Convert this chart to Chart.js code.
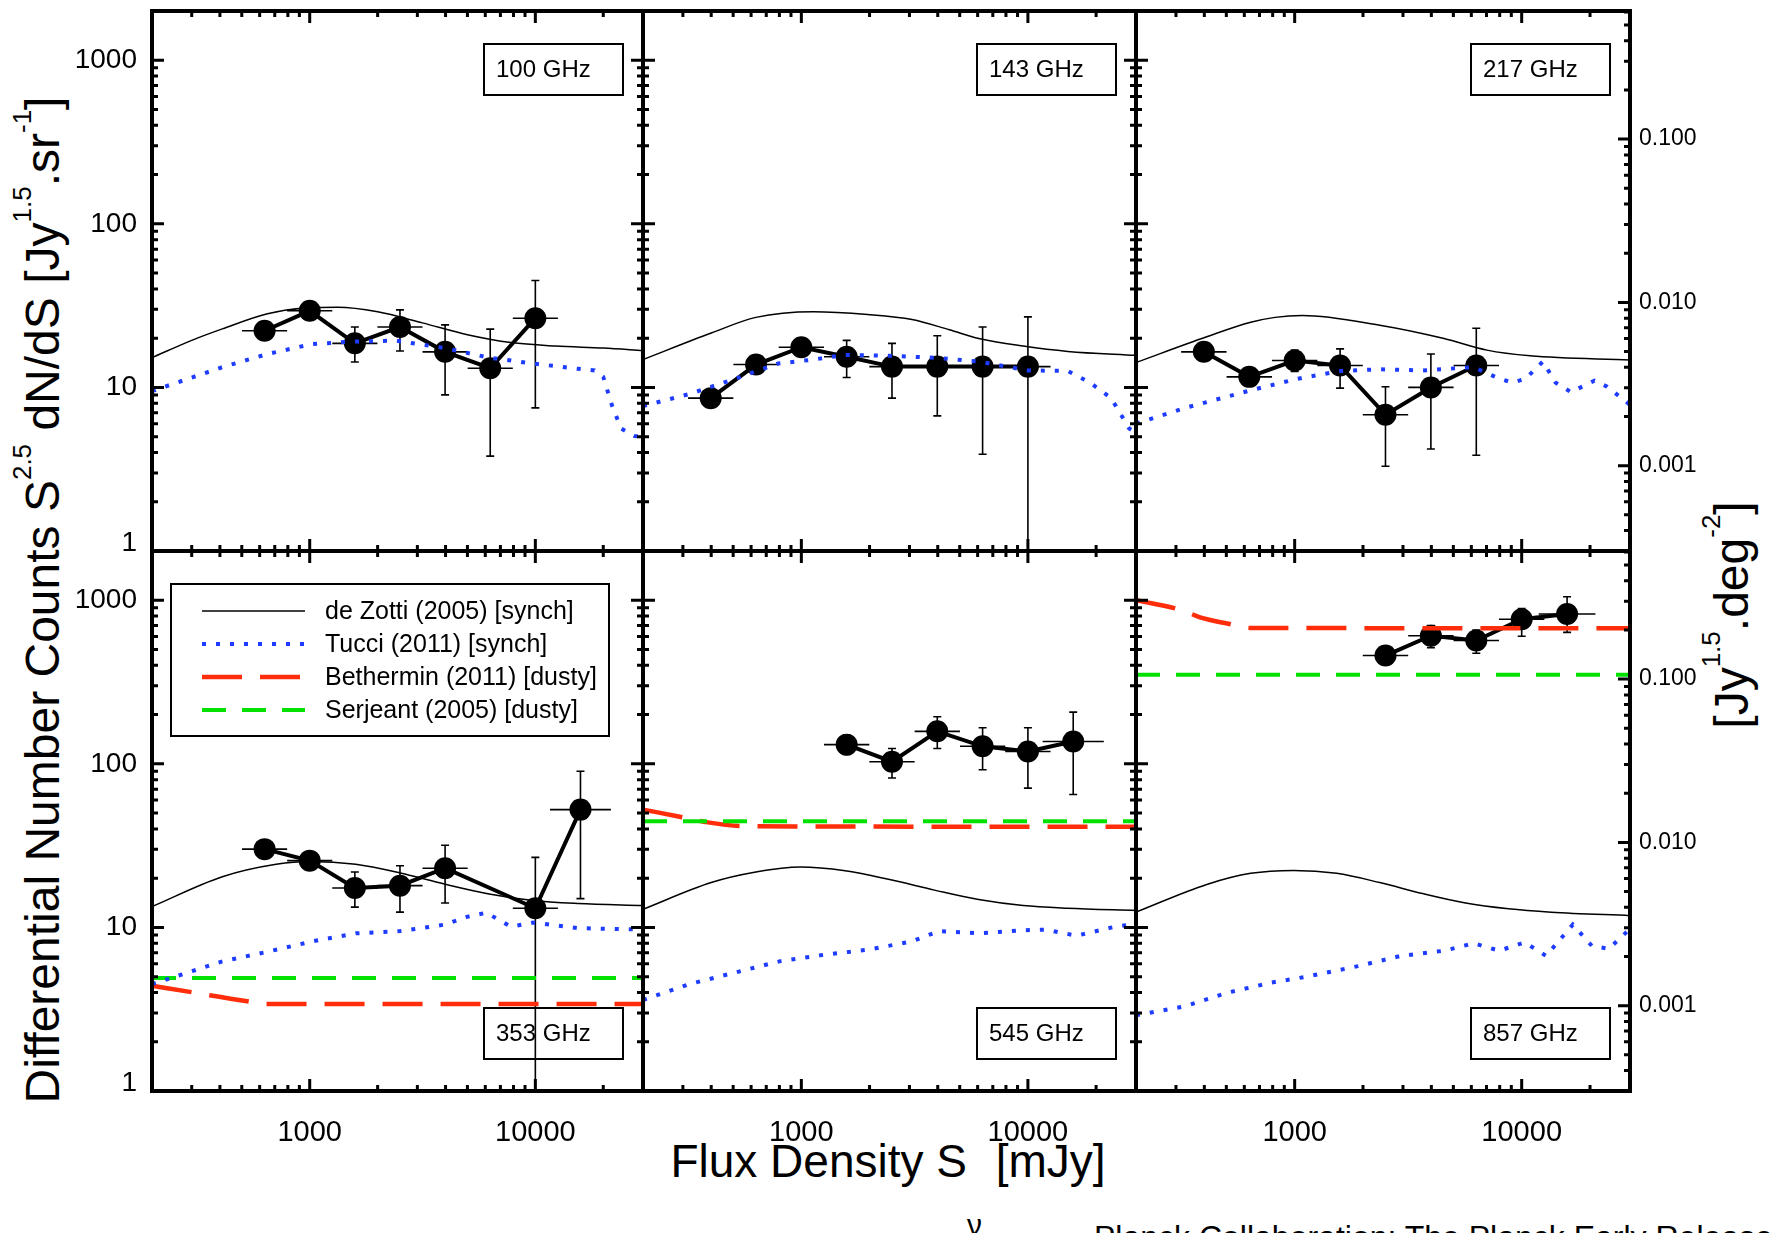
<!DOCTYPE html>
<html>
<head>
<meta charset="utf-8">
<script src="https://cdn.jsdelivr.net/npm/chart.js@4.4.1/dist/chart.umd.min.js"></script>
<style>
  html, body { margin: 0; padding: 0; background: #fff; }
  body { position: relative; width: 1774px; height: 1233px; overflow: hidden;
         font-family: 'Liberation Sans', Arial, Helvetica, sans-serif; color: #000; }
  canvas { position: absolute; }
  .title { position: absolute; white-space: nowrap; font-size: 48px; line-height: 48px; }
  .vt { transform: translate(-50%, -50%) rotate(-90deg); }
  .title sup { font-size: 26px; vertical-align: baseline; position: relative; top: -28px; }
  #xtitle { font-size: 46px; line-height: 46px; }
  .nu { display: inline-block; font-size: 30px; position: relative; top: 58px; width: 16px; }
  #footer { position: absolute; left: 1094px; top: 1219px; font-size: 32px; white-space: nowrap; }
</style>
</head>
<body>

<div class="title vt" style="left:46px; top:600px;">Differential Number Counts S<sup>2.5</sup> dN/dS [Jy<sup>1.5</sup>.sr<sup>-1</sup>]</div>
<div class="title vt" style="left:1735px; top:615px;">[Jy<sup>1.5</sup>.deg<sup>-2</sup>]</div>
<div id="xtitle" class="title" style="left:888px; top:1138px; transform: translateX(-50%);">Flux Density S<span class="nu">&nu;</span> [mJy]</div>
<div id="footer">Planck Collaboration: The Planck Early Release Compact Source Catalogue</div>

<script>
// Differential source counts, S^2.5 dN/dS in Jy^1.5 sr^-1, against flux density in mJy.

// ---- 100 GHz ----
const flux100   = [631, 1000, 1585, 2512, 3981, 6310, 10000];
const counts100 = [22.2, 29.4, 18.6, 23.4, 16.5, 13.1, 26.5];
const lo100     = [20.6, 27.4, 14.3, 16.7, 9.0, 3.8, 7.5];
const hi100     = [23.8, 31.6, 23.4, 29.8, 24.1, 22.7, 45.0];
const bin100    = [0.1, 0.1, 0.1, 0.1, 0.1, 0.1, 0.1];
const dzFlux100 = [200, 300, 410, 650, 960, 1330, 2000, 3160, 5000, 7800, 12300, 20000, 30000];
const dz100     = [15.2, 19.4, 22.8, 28.2, 30.6, 30.9, 29.0, 24.8, 21.0, 18.8, 17.9, 17.4, 16.8];
const tuFlux100 = [200, 410, 650, 1020, 1600, 2420, 3960, 6240, 9770, 15400, 18300, 20000, 21900, 24000, 27500, 30000];
const tu100     = [9.5, 13.3, 16.0, 18.4, 19.1, 19.3, 17.4, 15.2, 14.0, 13.0, 12.7, 11.6, 7.7, 5.6, 5.05, 5.0];

// ---- 143 GHz ----
const flux143   = [398, 631, 1000, 1585, 2512, 3981, 6310, 10000];
const counts143 = [8.6, 13.8, 17.6, 15.4, 13.4, 13.4, 13.4, 13.4];
const lo143     = [8.0, 12.6, 16.2, 11.5, 8.6, 6.7, 3.9, 0.5];
const hi143     = [9.3, 15.0, 19.0, 19.4, 18.6, 20.7, 23.4, 27.0];
const bin143    = [0.1, 0.1, 0.1, 0.1, 0.1, 0.1, 0.1, 0.1];
const dzFlux143 = [200, 400, 630, 1130, 1960, 3080, 4500, 6070, 9530, 15000, 30000];
const dz143     = [14.8, 21.5, 26.8, 29.0, 27.9, 26.0, 22.5, 19.9, 17.9, 16.6, 15.7];
const tuFlux143 = [200, 320, 510, 790, 1130, 1550, 2440, 3870, 6060, 10000, 15000, 18800, 23300, 28000, 30000];
const tu143     = [7.7, 9.1, 11.3, 14.0, 14.8, 15.8, 15.6, 15.2, 14.4, 12.7, 12.6, 10.7, 8.6, 5.6, 5.3];

// ---- 217 GHz ----
const flux217   = [398, 631, 1000, 1585, 2512, 3981, 6310];
const counts217 = [16.5, 11.6, 14.6, 13.6, 6.8, 10.0, 13.6];
const lo217     = [15.3, 10.7, 12.5, 9.9, 3.3, 4.2, 3.85];
const hi217     = [17.8, 12.6, 16.9, 17.2, 10.1, 16.0, 23.0];
const bin217    = [0.1, 0.1, 0.1, 0.1, 0.1, 0.1, 0.1];
const dzFlux217 = [200, 410, 640, 820, 1080, 2370, 4550, 7030, 10900, 30000];
const dz217     = [14.2, 20.4, 25.0, 26.8, 27.5, 24.0, 19.9, 16.9, 15.6, 14.7];
const tuFlux217 = [200, 330, 640, 1030, 1600, 2370, 3660, 6170, 7030, 8010, 9120, 10400, 12400, 14100, 16500, 20900, 23800, 29400, 30000];
const tu217     = [6.0, 7.5, 9.6, 11.3, 12.6, 12.9, 12.7, 13.3, 12.2, 11.3, 10.7, 11.3, 14.4, 10.7, 9.35, 11.0, 10.1, 8.0, 7.8];

// ---- 353 GHz ----
const flux353   = [631, 1000, 1585, 2512, 3981, 10000, 15849];
const counts353 = [30.1, 25.6, 17.4, 18.0, 23.0, 13.1, 52.5];
const lo353     = [28.0, 23.8, 13.3, 12.4, 14.1, 0.5, 15.0];
const hi353     = [32.4, 27.6, 21.8, 23.8, 31.8, 26.8, 90.0];
const bin353    = [0.1, 0.1, 0.1, 0.1, 0.1, 0.1, 0.135];
const dzFlux353 = [200, 410, 710, 1000, 1600, 2520, 3950, 6240, 9770, 15400, 30000];
const dz353     = [13.4, 20.4, 24.3, 25.3, 24.3, 21.5, 18.4, 16.0, 14.6, 14.0, 13.6];
const tuFlux353 = [200, 410, 650, 1020, 1600, 2520, 3970, 4970, 6060, 7800, 9770, 15400, 30000];
const tu353     = [4.5, 6.2, 7.1, 8.2, 9.2, 9.5, 10.4, 11.6, 12.3, 10.1, 10.7, 9.9, 9.7];
const beFlux353 = [200, 290, 360, 520, 650, 30000];
const be353     = [4.4, 4.05, 3.85, 3.55, 3.4, 3.4];
const seFlux353 = [200, 30000];
const se353     = [4.9, 4.9];

// ---- 545 GHz ----
const flux545   = [1585, 2512, 3981, 6310, 10000, 15849];
const counts545 = [131, 103, 158, 128, 119, 137];
const lo545     = [114, 82, 124, 92, 71, 65];
const hi545     = [150, 124, 194, 166, 166, 207];
const bin545    = [0.1, 0.1, 0.1, 0.1, 0.1, 0.135];
const dzFlux545 = [200, 400, 630, 990, 1560, 2450, 3870, 6060, 9530, 14900, 30000];
const dz545     = [12.9, 18.8, 21.8, 23.4, 22.2, 19.6, 16.9, 14.8, 13.6, 13.1, 12.7];
const tuFlux545 = [200, 320, 510, 800, 1250, 1960, 3070, 4050, 6060, 9530, 11950, 16400, 23500, 28100, 30000];
const tu545     = [3.6, 4.5, 5.3, 6.2, 6.8, 7.3, 8.2, 9.5, 9.2, 9.6, 9.7, 8.9, 10.0, 10.4, 10.2];
const beFlux545 = [200, 300, 370, 550, 30000];
const be545     = [52.5, 47.1, 44.3, 41.6, 41.2];
const seFlux545 = [200, 30000];
const se545     = [44.6, 44.6];

// ---- 857 GHz ----
const flux857   = [2512, 3981, 6310, 10000, 15849];
const counts857 = [459, 607, 567, 765, 824];
const lo857     = [430, 513, 474, 603, 636];
const hi857     = [490, 700, 657, 890, 1050];
const bin857    = [0.1, 0.1, 0.1, 0.1, 0.125];
const dzFlux857 = [200, 410, 640, 990, 1530, 2370, 3660, 5660, 8750, 13500, 30000];
const dz857     = [12.4, 18.3, 21.4, 22.3, 21.4, 18.8, 16.1, 14.1, 13.0, 12.4, 11.8];
const tuFlux857 = [200, 330, 510, 790, 1130, 1900, 2940, 4550, 6150, 7960, 10300, 12800, 16800, 20400, 24200, 30000];
const tu857     = [2.9, 3.3, 4.0, 4.6, 5.0, 5.8, 6.7, 7.2, 8.0, 7.2, 8.1, 6.7, 10.4, 7.7, 7.4, 9.8];
const beFlux857 = [200, 320, 380, 510, 650, 30000];
const be857     = [1000, 867, 789, 718, 676, 675];
const seFlux857 = [200, 30000];
const se857     = [351, 351];

// axis ranges and labelled ticks
const X_MIN = 200, X_MAX = 30000;
const Y_MIN = 1, Y_MAX = 2000;
const X_LABELS = [1000, 10000];
const Y_LABELS = [1, 10, 100, 1000];
const DEG_LABELS = [0.001, 0.01, 0.1];
const SR_IN_DEG2 = Math.pow(180 / Math.PI, 2);   // square degrees per steradian

// page layout of the 3x2 grid of plot areas
const COL_EDGES = [152, 643, 1136, 1630];
const ROW_EDGES = [11, 551, 1091];
const MARGIN = 100;

const panels = [
  { name: '100 GHz', col: 0, row: 0, flux: flux100, counts: counts100, lo: lo100, hi: hi100, bin: bin100,
    dz: [dzFlux100, dz100], tu: [tuFlux100, tu100] },
  { name: '143 GHz', col: 1, row: 0, flux: flux143, counts: counts143, lo: lo143, hi: hi143, bin: bin143,
    dz: [dzFlux143, dz143], tu: [tuFlux143, tu143] },
  { name: '217 GHz', col: 2, row: 0, flux: flux217, counts: counts217, lo: lo217, hi: hi217, bin: bin217,
    dz: [dzFlux217, dz217], tu: [tuFlux217, tu217] },
  { name: '353 GHz', col: 0, row: 1, flux: flux353, counts: counts353, lo: lo353, hi: hi353, bin: bin353,
    dz: [dzFlux353, dz353], tu: [tuFlux353, tu353], be: [beFlux353, be353], se: [seFlux353, se353], legend: true },
  { name: '545 GHz', col: 1, row: 1, flux: flux545, counts: counts545, lo: lo545, hi: hi545, bin: bin545,
    dz: [dzFlux545, dz545], tu: [tuFlux545, tu545], be: [beFlux545, be545], se: [seFlux545, se545] },
  { name: '857 GHz', col: 2, row: 1, flux: flux857, counts: counts857, lo: lo857, hi: hi857, bin: bin857,
    dz: [dzFlux857, dz857], tu: [tuFlux857, tu857], be: [beFlux857, be857], se: [seFlux857, se857] },
];

const FONT = "'Liberation Sans', Arial, Helvetica, sans-serif";
Chart.defaults.font.family = FONT;
Chart.defaults.color = '#000';

function pts(xs, ys) { return xs.map((x, i) => ({ x, y: ys[i] })); }

// every 1..9 x 10^n value in a range, flagged major for the decades
function logTicks(lo, hi) {
  const out = [];
  for (let e = Math.floor(Math.log10(lo)); e <= Math.ceil(Math.log10(hi)); e++) {
    for (let m = 1; m < 10; m++) {
      const v = m * Math.pow(10, e);
      if (v >= lo * 0.999 && v <= hi * 1.001) out.push([v, m === 1]);
    }
  }
  return out;
}
const X_TICKS = logTicks(X_MIN, X_MAX);
const Y_TICKS = logTicks(Y_MIN, Y_MAX);
const DEG_TICKS = logTicks(Y_MIN / SR_IN_DEG2, Y_MAX / SR_IN_DEG2);

// IDL style box: thick frame with inward ticks on all four sides
const idlFrame = {
  id: 'idlFrame',
  afterDraw(chart, args, opts) {
    const { ctx, chartArea: a } = chart;
    const xs = chart.scales.x, ys = chart.scales.y;
    const rs = opts.degAxis ? chart.scales.y2 : ys;
    const rTicks = opts.degAxis ? DEG_TICKS : Y_TICKS;
    ctx.save();
    ctx.strokeStyle = '#000';
    ctx.lineWidth = 3;
    ctx.beginPath();
    X_TICKS.forEach(([v, major]) => {
      const px = xs.getPixelForValue(v), len = major ? 12 : 6;
      ctx.moveTo(px, a.top); ctx.lineTo(px, a.top + len);
      ctx.moveTo(px, a.bottom); ctx.lineTo(px, a.bottom - len);
    });
    Y_TICKS.forEach(([v, major]) => {
      const py = ys.getPixelForValue(v), len = major ? 12 : 6;
      ctx.moveTo(a.left, py); ctx.lineTo(a.left + len, py);
    });
    rTicks.forEach(([v, major]) => {
      const py = rs.getPixelForValue(v), len = major ? 12 : 6;
      ctx.moveTo(a.right, py); ctx.lineTo(a.right - len, py);
    });
    ctx.stroke();
    ctx.lineWidth = 4;
    ctx.strokeRect(a.left, a.top, a.width, a.height);
    ctx.restore();
  }
};

// vertical (with caps) and horizontal (bin width) error bars on the measured counts
const errorBars = {
  id: 'errorBars',
  beforeDatasetsDraw(chart) {
    const { ctx, chartArea: a, scales: { x, y } } = chart;
    ctx.save();
    ctx.beginPath();
    ctx.rect(a.left, a.top, a.width, a.height);
    ctx.clip();
    ctx.strokeStyle = '#000';
    ctx.lineWidth = 1.6;
    chart.data.datasets.forEach(ds => {
      if (!ds.errLo) return;
      ds.data.forEach((p, i) => {
        const px = x.getPixelForValue(p.x), py = y.getPixelForValue(p.y);
        const yl = y.getPixelForValue(ds.errLo[i]), yh = y.getPixelForValue(ds.errHi[i]);
        const f = Math.pow(10, ds.binDex[i]);
        const xl = x.getPixelForValue(p.x / f), xh = x.getPixelForValue(p.x * f);
        ctx.beginPath();
        ctx.moveTo(px, yl); ctx.lineTo(px, yh);
        ctx.moveTo(px - 4, yl); ctx.lineTo(px + 4, yl);
        ctx.moveTo(px - 4, yh); ctx.lineTo(px + 4, yh);
        ctx.moveTo(xl, py); ctx.lineTo(xh, py);
        ctx.stroke();
      });
    });
    ctx.restore();
  }
};

// boxed frequency label in the corner of each panel
const bandLabel = {
  id: 'bandLabel',
  afterDraw(chart, args, opts) {
    const { ctx, chartArea: a } = chart;
    const w = 139, h = 51;
    const x0 = a.right - 20 - w;
    const y0 = opts.bottom ? a.bottom - 32 - h : a.top + 33;
    ctx.save();
    ctx.lineWidth = 2;
    ctx.strokeStyle = '#000';
    ctx.strokeRect(x0, y0, w, h);
    ctx.fillStyle = '#000';
    ctx.font = '24px ' + FONT;
    ctx.textBaseline = 'middle';
    ctx.fillText(opts.text, x0 + 12, y0 + h / 2 + 1);
    ctx.restore();
  }
};

// model key, drawn with the same line styles as the model curves
const modelKey = {
  id: 'modelKey',
  afterDraw(chart, args, opts) {
    if (!opts.show) return;
    const { ctx, chartArea: a } = chart;
    const bx = a.left + 19, by = a.top + 33, bw = 438, bh = 152;
    ctx.save();
    ctx.lineWidth = 2;
    ctx.strokeStyle = '#000';
    ctx.strokeRect(bx, by, bw, bh);
    chart.data.datasets.filter(d => d.isModel).forEach((d, i) => {
      const ly = by + 27 + i * 33;
      ctx.setLineDash(d.borderDash || []);
      ctx.strokeStyle = d.borderColor;
      ctx.lineWidth = d.borderWidth;
      ctx.beginPath();
      ctx.moveTo(bx + 31, ly);
      ctx.lineTo(bx + 134, ly);
      ctx.stroke();
      ctx.setLineDash([]);
      ctx.fillStyle = '#000';
      ctx.font = '25px ' + FONT;
      ctx.textBaseline = 'middle';
      ctx.fillText(d.label, bx + 154, ly + 1);
    });
    ctx.restore();
  }
};

const BLUE = 'rgb(30, 60, 255)';
const RED = 'rgb(255, 45, 10)';
const GREEN = 'rgb(0, 225, 0)';

function buildPanel(p) {
  const c = p.col, r = p.row;
  const w = COL_EDGES[c + 1] - COL_EDGES[c];
  const h = ROW_EDGES[r + 1] - ROW_EDGES[r];
  const canvas = document.createElement('canvas');
  canvas.width = w + 2 * MARGIN;
  canvas.height = h + 2 * MARGIN;
  canvas.style.left = (COL_EDGES[c] - MARGIN) + 'px';
  canvas.style.top = (ROW_EDGES[r] - MARGIN) + 'px';
  canvas.style.width = canvas.width + 'px';
  canvas.style.height = canvas.height + 'px';
  document.body.appendChild(canvas);

  const datasets = [
    { label: 'counts', data: pts(p.flux, p.counts), errLo: p.lo, errHi: p.hi, binDex: p.bin,
      borderColor: '#000', borderWidth: 4, tension: 0,
      pointRadius: 11, pointBackgroundColor: '#000', pointBorderWidth: 0, order: 9 },
    { label: 'de Zotti (2005) [synch]', isModel: true, data: pts(p.dz[0], p.dz[1]),
      borderColor: '#000', borderWidth: 1.5, pointRadius: 0, cubicInterpolationMode: 'monotone', order: 3 },
    { label: 'Tucci (2011) [synch]', isModel: true, data: pts(p.tu[0], p.tu[1]),
      borderColor: BLUE, borderWidth: 4, borderDash: [4, 10], pointRadius: 0, tension: 0, order: 0 },
  ];
  if (p.be) {
    datasets.push({ label: 'Bethermin (2011) [dusty]', isModel: true, data: pts(p.be[0], p.be[1]),
      borderColor: RED, borderWidth: 4.5, borderDash: [40, 18], pointRadius: 0,
      cubicInterpolationMode: 'monotone', order: 2 });
    datasets.push({ label: 'Serjeant (2005) [dusty]', isModel: true, data: pts(p.se[0], p.se[1]),
      borderColor: GREEN, borderWidth: 4, borderDash: [24, 16], pointRadius: 0, tension: 0, order: 1 });
  }

  const scales = {
    x: {
      type: 'logarithmic', min: X_MIN, max: X_MAX, position: 'bottom',
      grid: { display: false, drawTicks: false }, border: { display: false },
      afterBuildTicks: s => { s.ticks = X_LABELS.map(v => ({ value: v })); },
      afterFit: s => { s.height = MARGIN; },
      ticks: { display: r === 1, padding: 25, autoSkip: false, maxRotation: 0, minRotation: 0,
               font: { size: 29 }, color: '#000', callback: v => String(v) }
    },
    y: {
      type: 'logarithmic', min: Y_MIN, max: Y_MAX, position: 'left',
      grid: { display: false, drawTicks: false }, border: { display: false },
      afterBuildTicks: s => { s.ticks = Y_LABELS.map(v => ({ value: v })); },
      afterFit: s => { s.width = MARGIN; },
      ticks: { display: c === 0, padding: 15, autoSkip: false, font: { size: 28, lineHeight: 0.55 },
               color: '#000', callback: v => (v === 1 ? ['1', ''] : String(v)) }
    }
  };
  if (c === 2) {
    scales.y2 = {
      type: 'logarithmic', min: Y_MIN / SR_IN_DEG2, max: Y_MAX / SR_IN_DEG2, position: 'right',
      grid: { display: false, drawTicks: false }, border: { display: false },
      afterBuildTicks: s => { s.ticks = DEG_LABELS.map(v => ({ value: v })); },
      afterFit: s => { s.width = MARGIN; },
      ticks: { padding: 9, autoSkip: false, font: { size: 23 }, color: '#000',
               callback: v => Number(v).toFixed(3) }
    };
  }

  new Chart(canvas, {
    type: 'line',
    data: { datasets },
    options: {
      responsive: false,
      animation: false,
      devicePixelRatio: 1,
      events: [],
      layout: { padding: { top: MARGIN, right: c === 2 ? 0 : MARGIN, left: 0, bottom: 0 } },
      scales,
      plugins: {
        legend: { display: false },
        tooltip: { enabled: false },
        idlFrame: { degAxis: c === 2 },
        bandLabel: { text: p.name, bottom: r === 1 },
        modelKey: { show: !!p.legend }
      }
    },
    plugins: [errorBars, idlFrame, bandLabel, modelKey]
  });
}

panels.forEach(buildPanel);
</script>
</body>
</html>
